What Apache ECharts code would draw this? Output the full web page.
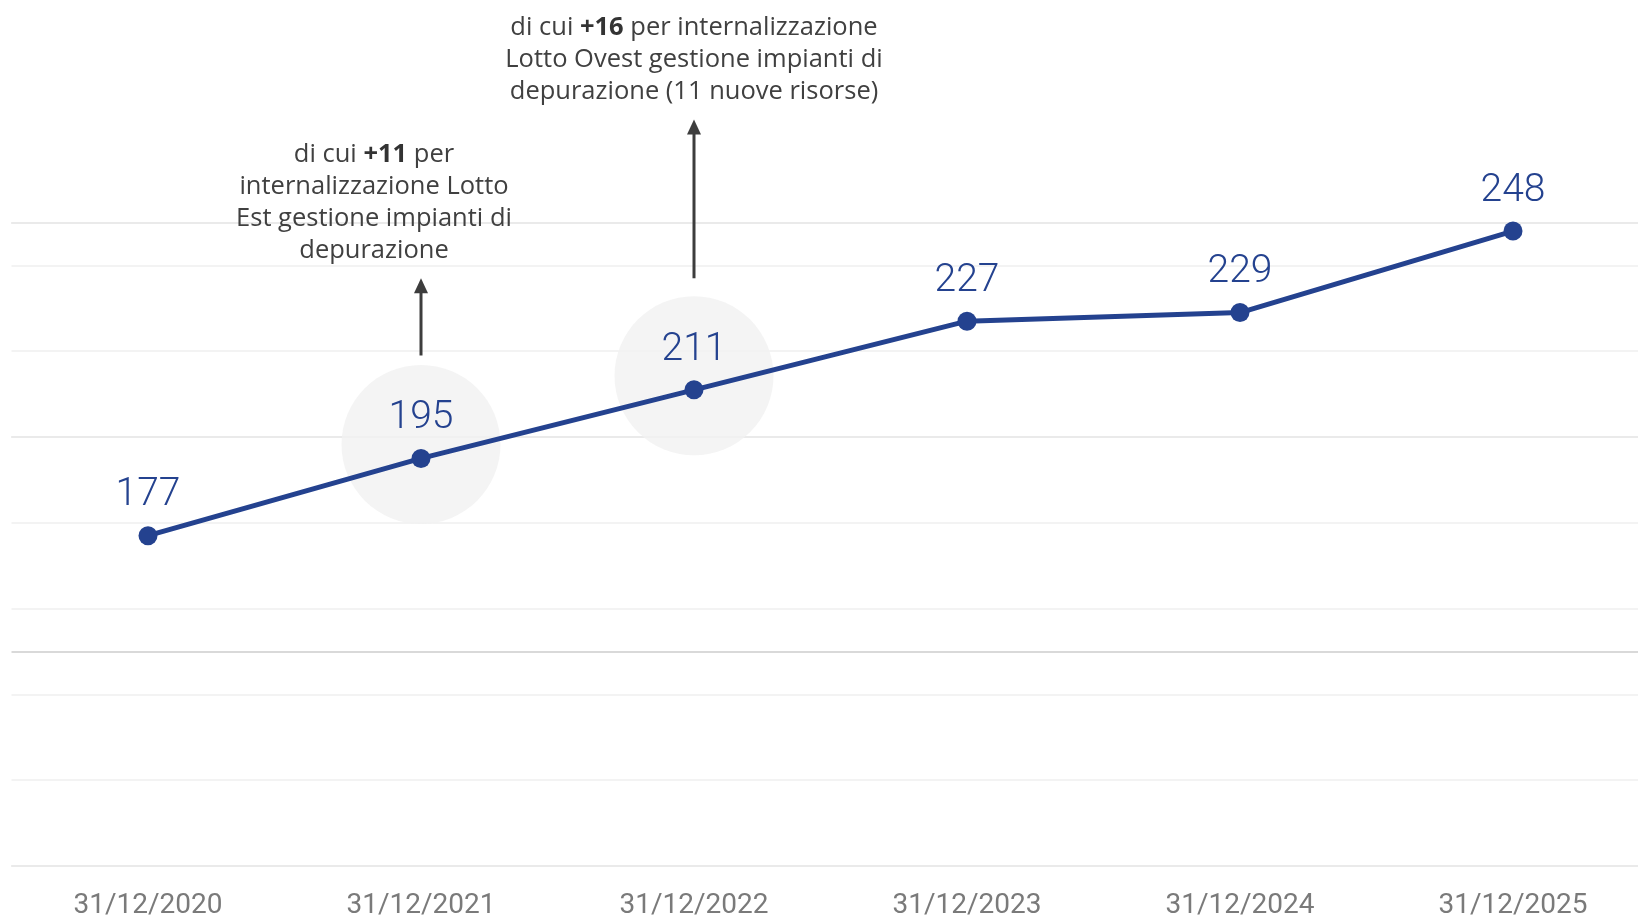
<!DOCTYPE html>
<html>
<head>
<meta charset="utf-8">
<script src="https://cdn.jsdelivr.net/npm/echarts@6/dist/echarts.min.js"></script>
<style>
  html, body { margin: 0; padding: 0; background: #fff; }
  #chart { width: 1638px; height: 919px; }
</style>
</head>
<body>
<div id="chart"></div>
<script>
const categories = ['31/12/2020', '31/12/2021', '31/12/2022', '31/12/2023', '31/12/2024', '31/12/2025'];
const headcount = [177, 195, 211, 227, 229, 248];
const highlighted = [1, 2];
const notes = [
    { idx: 1, from: 219, to: 237, dx: -47, lines: ['di cui {b|+11} per', 'internalizzazione Lotto', 'Est gestione impianti di', 'depurazione'] },
    { idx: 2, from: 237, to: 274, dx: 0, lines: ['di cui {b|+16} per internalizzazione', 'Lotto Ovest gestione impianti di', 'depurazione (11 nuove risorse)'] }
];

const blue = '#24428f';
const chart = echarts.init(document.getElementById('chart'));

chart.setOption({
    animation: false,
    grid: { left: 11.5, width: 1638, top: 222.5, bottom: 53, containLabel: false, outerBoundsMode: 'none' },
    xAxis: {
        type: 'category',
        data: categories,
        boundaryGap: true,
        axisLine: { show: false },
        axisTick: { show: false },
        axisLabel: { color: '#7a7a7a', fontSize: 28, fontFamily: 'Roboto', margin: 26 }
    },
    yAxis: [
        {
            type: 'value', min: 100, max: 250, interval: 50,
            axisLine: { show: false }, axisTick: { show: false }, axisLabel: { show: false },
            splitLine: { lineStyle: { color: '#d9d9d9', width: 2 } }
        },
        {
            type: 'value', min: 100, max: 250, interval: 20, position: 'left',
            axisLine: { show: false }, axisTick: { show: false }, axisLabel: { show: false },
            splitLine: { lineStyle: { color: '#efefef', width: 1.5 } }
        }
    ],
    series: [
        {
            type: 'scatter',
            data: headcount.map((v, i) => highlighted.includes(i) ? v : '-'),
            symbolSize: 159,
            symbolOffset: [0, -14],
            itemStyle: { color: '#f1f1f1' },
            silent: true,
            z: 1
        },
        {
            type: 'line',
            data: headcount,
            symbol: 'circle',
            symbolSize: 19,
            lineStyle: { color: blue, width: 5 },
            itemStyle: { color: blue },
            label: {
                show: true, position: 'top', distance: 11,
                color: blue, fontSize: 39, fontFamily: 'Roboto', fontWeight: 300
            },
            z: 3
        }
    ]
});

// arrows and notes, placed from data values through the axes
const graphics = [];
notes.forEach(function (n) {
    const a = chart.convertToPixel({ xAxisIndex: 0, yAxisIndex: 0 }, [n.idx, n.from]);
    const b = chart.convertToPixel({ xAxisIndex: 0, yAxisIndex: 0 }, [n.idx, n.to]);
    graphics.push({
        type: 'line',
        shape: { x1: a[0], y1: a[1], x2: b[0], y2: b[1] + 12 },
        style: { stroke: '#3d3d3d', lineWidth: 3 }
    });
    graphics.push({
        type: 'polygon',
        shape: { points: [[b[0], b[1]], [b[0] - 7, b[1] + 15], [b[0] + 7, b[1] + 15]] },
        style: { fill: '#3d3d3d' }
    });
    graphics.push({
        type: 'text',
        x: b[0] + n.dx,
        y: b[1] - 12,
        style: {
            text: n.lines.join('\n'),
            align: 'center',
            verticalAlign: 'bottom',
            fill: '#404040',
            fontSize: 25.5,
            fontFamily: 'Open Sans',
            lineHeight: 32,
            rich: {
                b: { fontWeight: 'bold', fontSize: 25.5, fontFamily: 'Open Sans', fill: '#333', lineHeight: 32 }
            }
        }
    });
});
chart.setOption({ graphic: graphics });
</script>
</body>
</html>
